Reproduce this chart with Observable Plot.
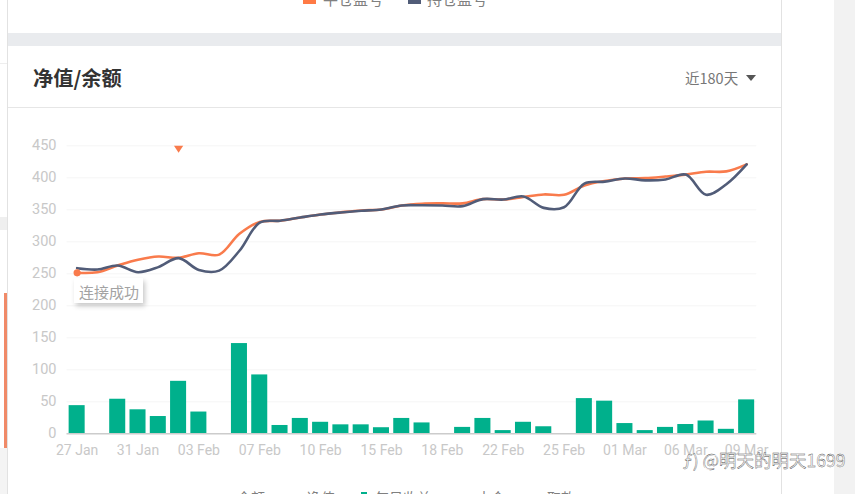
<!DOCTYPE html>
<html><head><meta charset="utf-8">
<script src="https://cdn.jsdelivr.net/npm/d3@7"></script>
<script src="https://cdn.jsdelivr.net/npm/@observablehq/plot@0.6"></script>
<style>
html,body{margin:0;padding:0;width:855px;height:494px;overflow:hidden;background:#fff;font-family:"Noto Sans CJK SC",sans-serif}
.b{position:absolute}
.t{position:absolute;white-space:nowrap;line-height:1}
svg{position:absolute;left:0;top:0;background:transparent}
</style></head><body>
<div class="b" style="left:834px;top:0;width:21px;height:494px;background:#f2f2f2"></div>
<div class="b" style="left:0;top:217px;width:7px;height:13px;background:#efefef"></div>
<div class="b" style="left:0;top:448px;width:7px;height:46px;background:#f4f4f4"></div>
<div class="b" style="left:0;top:63px;width:7px;height:1px;background:#eee"></div>
<div class="b" style="left:4px;top:293px;width:3px;height:155px;background:#f08a68"></div>
<div class="b" style="left:7px;top:0;width:1px;height:494px;background:#e2e2e2"></div>
<div class="b" style="left:781px;top:0;width:1px;height:494px;background:#e2e2e2"></div>
<div class="b" style="left:8px;top:33px;width:773px;height:12.5px;background:#e9ebee"></div>
<div class="b" style="left:8px;top:107px;width:773px;height:1px;background:#e6e6e6"></div>
<div class="t" style="left:33px;top:68px;font-size:20.2px;font-weight:700;color:#333">净值/余额</div>
<div class="t" style="left:685px;top:71px;font-size:14.5px;color:#777">近180天</div>
<div class="b" style="left:746px;top:75px;width:0;height:0;border-left:5px solid transparent;border-right:5px solid transparent;border-top:6px solid #555"></div>
<div class="b" style="left:303px;top:-7px;width:13px;height:11px;background:#ff7a45"></div>
<div class="t" style="left:323px;top:-9px;font-size:15px;color:#808080">平仓盈亏</div>
<div class="b" style="left:408px;top:-7px;width:13px;height:11px;background:#515c78"></div>
<div class="t" style="left:427px;top:-9px;font-size:15px;color:#808080">持仓盈亏</div>
<div class="t" style="left:237px;top:490px;font-size:14px;color:#808080">余额</div>
<div class="t" style="left:307px;top:490px;font-size:14px;color:#808080">净值</div>
<div class="b" style="left:361px;top:492px;width:6px;height:6px;background:#00b08c"></div>
<div class="t" style="left:375px;top:490px;font-size:14px;color:#808080">每日收益</div>
<div class="t" style="left:477px;top:490px;font-size:14px;color:#808080">本金</div>
<div class="t" style="left:547px;top:490px;font-size:14px;color:#808080">取款</div>
<div id="chart"></div>
<div class="b" style="left:74px;top:278px;width:69px;height:25px;background:#fff;box-shadow:2px 3px 5px rgba(0,0,0,.22)"></div>
<div class="t" style="left:79px;top:284px;font-size:15px;color:#a3a3a3">连接成功</div>
<div class="t" style="left:683px;top:451px;font-size:17.5px;color:#fff;-webkit-text-stroke:.35px #444;font-family:'Noto Sans CJK SC'">ƒ) @明天的明天1699</div>
<script>
const days = ["27 Jan","28 Jan","30 Jan","31 Jan","01 Feb","02 Feb","03 Feb","05 Feb","06 Feb","07 Feb","08 Feb","09 Feb","10 Feb","13 Feb","14 Feb","15 Feb","16 Feb","17 Feb","18 Feb","20 Feb","21 Feb","22 Feb","23 Feb","24 Feb","25 Feb","27 Feb","28 Feb","01 Mar","02 Mar","03 Mar","06 Mar","07 Mar","08 Mar","09 Mar"];
const tickDays = ["27 Jan","31 Jan","03 Feb","07 Feb","10 Feb","15 Feb","18 Feb","22 Feb","25 Feb","01 Mar","06 Mar","09 Mar"];
const daily = [44,0,54,37.5,27,82,34,0,141,92,13,24,18,14,14,9.5,24,17,0,10,24,5,18,11,0,55,51,16,5,10,14.5,20,7,53];
const netValue = [251.5,252.5,263,272,277,275,282,280,312.5,331,333,338,342.6,346,349,350.5,356.7,359.5,360,360,366.7,366,370,374,373.5,388,395,399,399.5,402,405,409.5,410,421];
const balance = [258.8,256.7,263,252.5,260.4,274.5,256,255,286,330,333,338,342.6,345.8,348.4,350.5,356.7,357,356.7,355.7,366.7,366,370.8,353,354,391,394,399,396,397.4,405,373.5,390,421];
const yTicks = [0,50,100,150,200,250,300,350,400,450];
const buyDay = ["02 Feb"], buyValue = [445];
const startDay = ["27 Jan"], startValue = [251.5];

const series = (vals) => days.map((d,i)=>({d,v:vals[i]}));
const downTri = {draw(c,s){const r=Math.sqrt(s)*0.62;c.moveTo(-r,-r*0.7);c.lineTo(r,-r*0.7);c.lineTo(0,r*0.8);c.closePath();}};

const chart = Plot.plot({
  width:855,height:494,
  marginLeft:66.5,marginRight:98.7,marginTop:145.3,marginBottom:60.7,
  style:{fontFamily:"Roboto, sans-serif",fontSize:"14px",background:"transparent",overflow:"visible"},
  x:{type:"band",domain:days,paddingInner:0.21,paddingOuter:0.105,round:false},
  y:{domain:[0,450]},
  marks:[
    Plot.ruleY(yTicks.filter(t=>t>0),{y:d=>d,stroke:"#f6f6f6",strokeWidth:1}),
    Plot.barY(series(daily).filter(d=>d.v>0),{x:"d",y:"v",fill:"#00b08c"}),
    Plot.ruleY([0],{stroke:"#ccc",strokeWidth:1.5}),
    Plot.axisY({ticks:yTicks,tickSize:0,tickPadding:10.5,label:null,color:"#c8c8c8",fontSize:14.5}),
    Plot.axisX({ticks:tickDays,tickSize:0,tickPadding:11,label:null,color:"#c8c8c8",fontSize:14}),
    Plot.line(series(netValue),{x:"d",y:"v",stroke:"#f97b4c",strokeWidth:2.6,curve:"catmull-rom"}),
    Plot.line(series(balance),{x:"d",y:"v",stroke:"#515c78",strokeWidth:2.6,curve:"catmull-rom"}),
    Plot.dot(startDay.map((d,i)=>({d,v:startValue[i]})),{x:"d",y:"v",r:3.6,fill:"#f97b4c"}),
    Plot.dot(buyDay.map((d,i)=>({d,v:buyValue[i]})),{x:"d",y:"v",r:4.2,symbol:downTri,fill:"#f97b4c"})
  ]
});
document.getElementById("chart").appendChild(chart);
</script>
</body></html>
